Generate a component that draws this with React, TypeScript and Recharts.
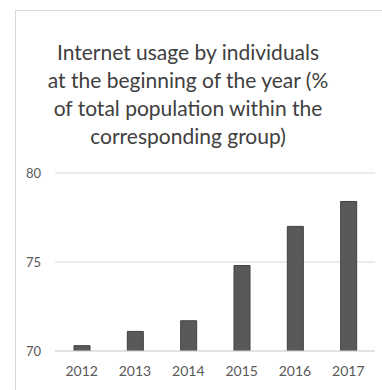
import { Bar, BarChart, CartesianGrid, XAxis, YAxis } from 'recharts';

const years = ['2012', '2013', '2014', '2015', '2016', '2017'];
const usage = [70.3, 71.1, 71.7, 74.8, 77.0, 78.4];
const yTicks = [70, 75, 80];
const titleLines = [
  'Internet usage by individuals',
  'at the beginning of the year (%',
  'of total population within the',
  'corresponding group)'
];

const data = years.map((year, i) => ({ year, value: usage[i] }));

export default function App() {
  return (
    <div
      style={{
        position: 'absolute',
        left: 0,
        top: 0,
        width: 382,
        height: 390,
        overflow: 'hidden',
        background: '#fff'
      }}
    >
      <div
        style={{
          position: 'absolute',
          left: 15,
          top: 10,
          width: 420,
          height: 420,
          border: '1px solid #d9d9d9'
        }}
      />
      <div
        style={{
          position: 'absolute',
          left: 0,
          top: 38,
          width: 376,
          textAlign: 'center',
          fontFamily: 'Lato, sans-serif',
          fontSize: 21,
          lineHeight: '28px',
          color: '#404040'
        }}
      >
        {titleLines.map((line) => (
          <div key={line}>{line}</div>
        ))}
      </div>
      <div style={{ position: 'absolute', left: 0, top: 0 }}>
        <BarChart
          width={382}
          height={390}
          data={data}
          margin={{ top: 173, right: 7, left: 0, bottom: 9 }}
          barSize={16}
        >
          <CartesianGrid vertical={false} stroke="#d9d9d9" />
          <XAxis
            dataKey="year"
            height={30}
            axisLine={{ stroke: '#d9d9d9' }}
            tickLine={false}
            tickSize={0}
            tickMargin={15}
            tick={{ fill: '#595959', fontSize: 14, fontFamily: 'Lato, sans-serif' }}
          />
          <YAxis
            width={55}
            domain={[70, 80]}
            ticks={yTicks}
            allowDataOverflow
            axisLine={false}
            tickLine={false}
            tickSize={0}
            tickMargin={14}
            tick={{ fill: '#595959', fontSize: 13, fontFamily: 'Lato, sans-serif' }}
          />
          <Bar dataKey="value" fill="#595959" stroke="#404040" isAnimationActive={false} />
        </BarChart>
      </div>
    </div>
  );
}
